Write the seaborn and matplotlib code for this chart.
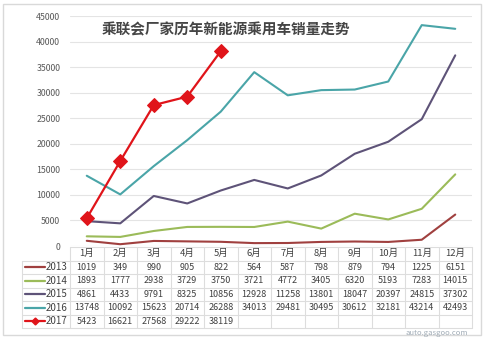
import matplotlib
matplotlib.use("Agg")
import matplotlib.pyplot as plt
from matplotlib.transforms import blended_transform_factory
import pandas as pd
import seaborn as sns

# ---- data ----
months = ["1月", "2月", "3月", "4月", "5月", "6月",
          "7月", "8月", "9月", "10月", "11月", "12月"]
years = ["2013", "2014", "2015", "2016", "2017"]
sales_2013 = [1019, 349, 990, 905, 822, 564, 587, 798, 879, 794, 1225, 6151]
sales_2014 = [1893, 1777, 2938, 3729, 3750, 3721, 4772, 3405, 6320, 5193, 7283, 14015]
sales_2015 = [4861, 4433, 9791, 8325, 10856, 12928, 11258, 13801, 18047, 20397, 24815, 37302]
sales_2016 = [13748, 10092, 15623, 20714, 26288, 34013, 29481, 30495, 30612, 32181, 43214, 42493]
sales_2017 = [5423, 16621, 27568, 29222, 38119]
title = "乘联会厂家历年新能源乘用车销量走势"

series = dict(zip(years, [sales_2013, sales_2014, sales_2015, sales_2016, sales_2017]))
colors = {"2013": "#A0403F", "2014": "#9BBB59", "2015": "#5E5378",
          "2016": "#4AA5A8", "2017": "#E0141A"}

rows = []
for y, vals in series.items():
    for i, v in enumerate(vals):
        rows.append({"year": y, "idx": i, "month": months[i], "sales": v})
df = pd.DataFrame(rows)

# ---- figure ----
sns.set_theme(style="white")
plt.rcParams["font.family"] = ["Noto Sans CJK SC", "DejaVu Sans"]

W, H = 495, 339
fig = plt.figure(figsize=(W / 100, H / 100), dpi=100)
fig.patch.set_facecolor("white")

# overlay in pixel units for frame and table
over = fig.add_axes([0, 0, 1, 1], zorder=0)
over.set_xlim(0, W)
over.set_ylim(H, 0)
over.axis("off")
over.add_patch(plt.Rectangle((2.5, 3.5), 478.5, 331, fill=False,
                             edgecolor="#D9D9D9", lw=1.0))

ax = fig.add_axes([70 / W, 1 - 246 / H, 402 / W, (246 - 16) / H], zorder=2)
ax.patch.set_alpha(0)

for y in years:
    sub = df[df["year"] == y]
    if y == "2017":
        sns.lineplot(data=sub, x="idx", y="sales", ax=ax, color=colors[y],
                     lw=1.6, marker="D", markersize=7.5,
                     markeredgecolor=colors[y], markerfacecolor=colors[y])
    else:
        sns.lineplot(data=sub, x="idx", y="sales", ax=ax, color=colors[y], lw=1.5)

ax.set_xlim(-0.5, 11.5)
ax.set_ylim(0, 45000)
ax.set_yticks(range(0, 45001, 5000))
ax.set_xticks([])
ax.set_xlabel("")
ax.set_ylabel("")
ax.tick_params(axis="y", length=0, pad=7, labelsize=6.3, labelcolor="#595959")
ax.grid(axis="y", color="#E4E4E4", lw=0.8)
ax.set_axisbelow(True)
for s in ax.spines.values():
    s.set_visible(False)

ax.text(0.388, 0.94, title, transform=ax.transAxes, ha="center", va="center",
        fontsize=10.5, fontweight="bold", color="#454545")

# ---- data table under the plot ----
trans = blended_transform_factory(ax.transData, over.transData)
bounds = [247, 260.5, 274, 287.5, 301, 314.5, 328]
centers = [(a + b) / 2 for a, b in zip(bounds[:-1], bounds[1:])]
grid_c = "#DDDDDD"

# horizontal rules
over.plot([70, 472], [bounds[0]] * 2, color=grid_c, lw=0.8)
for b in bounds[1:]:
    over.plot([22, 472], [b, b], color=grid_c, lw=0.8)
# vertical rules
over.plot([22, 22], [bounds[1], bounds[-1]], color=grid_c, lw=0.8)
for k in range(13):
    ax_x = k - 0.5
    over.plot([ax_x, ax_x], [bounds[0], bounds[-1]], color=grid_c, lw=0.8,
              transform=trans)

# header
for i, m in enumerate(months):
    over.text(i, centers[0], m, transform=trans, ha="center", va="center",
              fontsize=6.8, color="#404040")

# rows
for r, y in enumerate(years):
    cy = centers[r + 1]
    over.plot([25, 45], [cy, cy], color=colors[y], lw=1.6)
    if y == "2017":
        over.plot([35], [cy], marker="D", markersize=3.5, color=colors[y])
    over.text(45.5, cy, y, ha="left", va="center", fontsize=7,
              color="#404040")
    for i, v in enumerate(series[y]):
        over.text(i, cy, str(v), transform=trans, ha="center", va="center",
                  fontsize=6.5, color="#404040")

# site address below the table
over.text(468, 333, "auto.gasgoo.com", ha="right", va="center", fontsize=5.5,
          color="#7A8A99", alpha=0.7, zorder=5)

fig.savefig("out.png", dpi=100)
